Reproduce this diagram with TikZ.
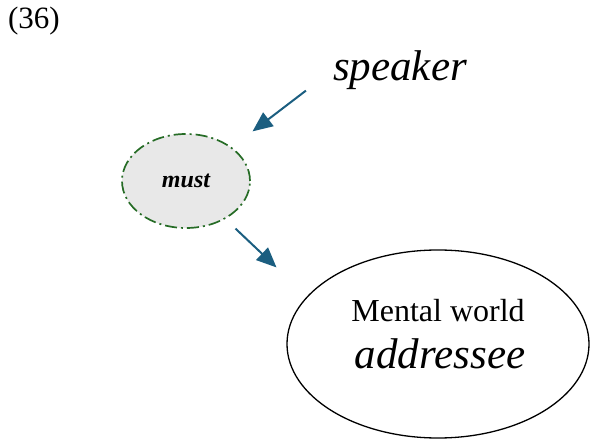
\documentclass[tikz,border=0pt]{standalone}
\usepackage{fontspec}
\setmainfont{Liberation Serif}
\usetikzlibrary{arrows.meta,shapes.geometric}
\definecolor{arrowblue}{RGB}{27,94,128}
\definecolor{dashgreen}{RGB}{38,108,38}
\definecolor{bubblegray}{RGB}{232,232,232}

\begin{document}
\begin{tikzpicture}[x=1pt, y=-1pt,
    modal/.style={ellipse, draw=dashgreen, fill=bubblegray, line width=1.7pt,
        dash pattern=on 12pt off 4pt on 2pt off 4pt,
        minimum width=128pt, minimum height=94pt, inner sep=0pt},
    world/.style={ellipse, draw, line width=1.3pt, minimum width=302pt, minimum height=188pt},
    pointer/.style={draw=arrowblue, line width=2pt, -{Triangle[length=20pt,width=17pt]}}]
    \useasboundingbox (0,0) rectangle (591,443);
    \node (num) at (34,21) {\fontsize{31}{36}\selectfont (36)};
    \node [modal] (must) at (186,181) {\fontsize{24}{28}\selectfont\bfseries\itshape must};
    \node [inner sep=0pt] (speaker) at (400,70) {\fontsize{43}{48}\selectfont\itshape speaker};
    \node [world] (mind) at (438,344) {};
    \node (mental) at (438,311) {\fontsize{32}{36}\selectfont Mental world};
    \node (addressee) at (440,354) {\fontsize{43}{48}\selectfont\itshape addressee};

    \draw [pointer, shorten <=34pt, shorten >=26pt] (speaker.west) -- (must.north east);
    \draw [pointer, shorten <=14pt, shorten >=42pt] (must.-44) -- (mind.160);
\end{tikzpicture}
\end{document}
